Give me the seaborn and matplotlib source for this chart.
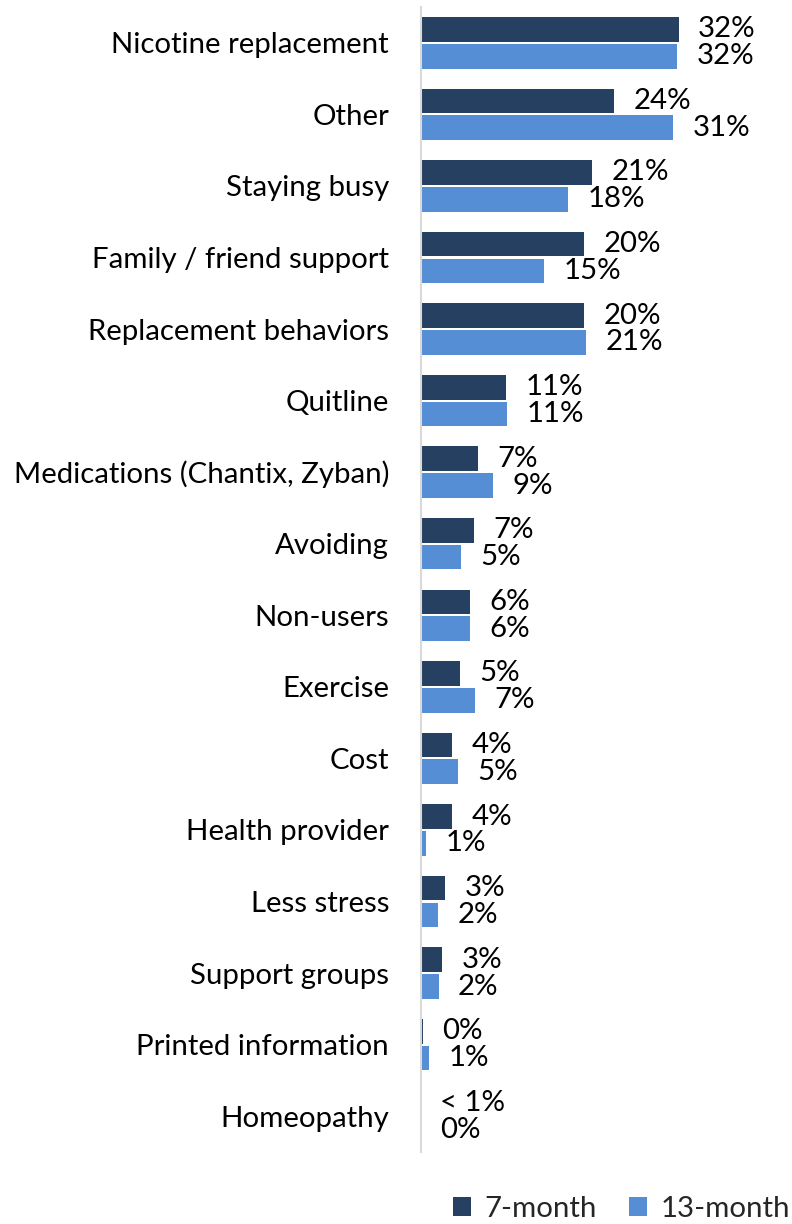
import matplotlib
matplotlib.use("Agg")
import matplotlib.pyplot as plt
import seaborn as sns
import pandas as pd
from matplotlib.patches import Patch

categories = [
    "Nicotine replacement", "Other", "Staying busy", "Family / friend support",
    "Replacement behaviors", "Quitline", "Medications (Chantix, Zyban)", "Avoiding",
    "Non-users", "Exercise", "Cost", "Health provider", "Less stress",
    "Support groups", "Printed information", "Homeopathy",
]
series_names = ["7-month", "13-month"]
month7 = [32.1, 24.0, 21.3, 20.3, 20.3, 10.6, 7.1, 6.6, 6.1, 4.9, 3.9, 3.9, 3.0, 2.6, 0.2, 0.0]
month13 = [31.9, 31.4, 18.3, 15.3, 20.6, 10.7, 9.0, 5.0, 6.1, 6.7, 4.6, 0.6, 2.1, 2.2, 1.0, 0.0]
# value text overrides for entries too small to show as a rounded percent
label_override_7 = {"Homeopathy": "< 1%"}

colors = ["#264061", "#558ED5"]
FONT = ["Lato", "DejaVu Sans"]
FS = 21.2

df = pd.DataFrame({
    "category": categories * 2,
    "series": [series_names[0]] * len(categories) + [series_names[1]] * len(categories),
    "value": month7 + month13,
})

sns.set_theme(style="white")
plt.rcParams["font.family"] = FONT

fig = plt.figure(figsize=(7.92, 12.24), dpi=100)
ax = fig.add_axes([421 / 792, 1 - 1152 / 1224, 1 - 421 / 792, (1152 - 7) / 1224])

sns.barplot(data=df, y="category", x="value", hue="series", order=categories,
            hue_order=series_names, palette=colors, saturation=1, width=0.75,
            orient="h", linewidth=0, legend=False, ax=ax)

# small gap between the two bars of each pair
gap = 0.03
for container in ax.containers:
    for bar in container:
        bar.set_y(bar.get_y() + gap / 2)
        bar.set_height(bar.get_height() - gap)

ax.set_xlim(0, (792 - 421) / 8.03)
ax.set_xlabel("")
ax.set_ylabel("")
ax.set_xticks([])
for side in ["top", "right", "bottom"]:
    ax.spines[side].set_visible(False)
ax.spines["left"].set_color("#d9d9d9")
ax.spines["left"].set_linewidth(1.5)
ax.tick_params(axis="y", length=0, pad=23, labelsize=FS)
for t in ax.get_yticklabels():
    t.set_color("black")

# value labels just past the end of each bar
for container, vals, name in zip(ax.containers, [month7, month13], series_names):
    for bar, v, cat in zip(container, vals, categories):
        if name == series_names[0] and cat in label_override_7:
            txt = label_override_7[cat]
        else:
            txt = f"{v:.0f}%"
        y = bar.get_y() + bar.get_height() / 2
        ax.annotate(txt, (bar.get_width(), y), xytext=(14, 0), textcoords="offset points",
                    va="center", ha="left", fontsize=FS, color="black")

handles = [Patch(facecolor=c, edgecolor="none") for c in colors]
fig.legend(handles, series_names, loc="center right", bbox_to_anchor=(790 / 792, 1 - 1209 / 1224),
           ncol=2, frameon=False, fontsize=FS, handlelength=0.62, handleheight=0.62,
           handletextpad=0.45, columnspacing=1.1, borderpad=0, borderaxespad=0)

fig.savefig("out.png", dpi=100)
